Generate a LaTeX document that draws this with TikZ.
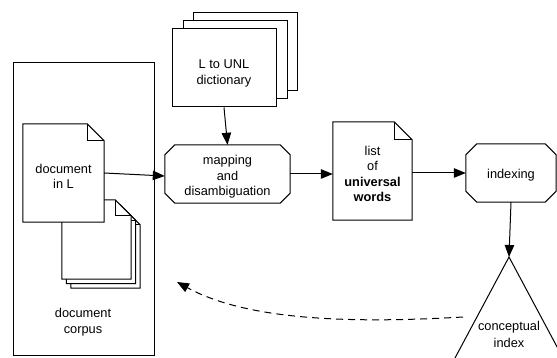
\documentclass[tikz,border=0pt]{standalone}
\usepackage{fontspec}
\setmainfont{Liberation Sans}
\usetikzlibrary{arrows.meta}
\newcommand\docpath[2]{%
  \draw[ln, fill=white] (#1.north west) -- ([xshift=-#2 pt]#1.north east) -- ([yshift=-#2 pt]#1.north east) -- (#1.south east) -- (#1.south west) -- cycle;
  \draw[ln] ([xshift=-#2 pt]#1.north east) -- ([xshift=-#2 pt,yshift=-#2 pt]#1.north east) -- ([yshift=-#2 pt]#1.north east);
}
\newcommand\octpath[2]{%
  \draw[ln] ([xshift=#2 pt]#1.north west) -- ([xshift=-#2 pt]#1.north east) -- ([yshift=-#2 pt]#1.north east) -- ([yshift=#2 pt]#1.south east) -- ([xshift=-#2 pt]#1.south east) -- ([xshift=#2 pt]#1.south west) -- ([yshift=#2 pt]#1.south west) -- ([yshift=-#2 pt]#1.north west) -- cycle;
}
\begin{document}
\begin{tikzpicture}[x=1pt,y=-1pt,
  txt/.style={font=\fontsize{12.8}{15.5}\selectfont, align=center, inner sep=0pt},
  ln/.style={line width=1pt, draw=black},
  tip/.style={-{Triangle[length=12pt,width=9.5pt]}},
  frame/.style={inner sep=0pt}
]
\useasboundingbox (0,0) rectangle (557,358);
\clip (0,0) rectangle (557,358);

% corpus
\node[ln, draw, frame, minimum width=141pt, minimum height=292pt] (corpus) at (83.5,209) {};
\node[txt] (corptext) at (83,322) {document\\corpus};

% stacked documents
\node[frame, minimum width=69pt, minimum height=79pt] (s3) at (105.5,248.5) {};
\docpath{s3}{16}
\node[frame, minimum width=69pt, minimum height=79pt] (s2) at (101,244) {};
\docpath{s2}{16}
\node[frame, minimum width=69pt, minimum height=79pt] (s1) at (96.5,239.5) {};
\docpath{s1}{16}

% document in L
\node[frame, minimum width=81pt, minimum height=98pt] (doc) at (63.5,173) {};
\docpath{doc}{17}
\node[txt] (doctext) at (63.5,176.5) {document\\in L};

% dictionary
\node[ln, fill=white, frame, minimum width=104pt, minimum height=78pt] (d3) at (245,52) {};
\node[ln, fill=white, frame, minimum width=104pt, minimum height=78pt] (d2) at (235,60) {};
\node[ln, fill=white, frame, minimum width=104pt, minimum height=78pt] (dict) at (224,68) {};
\node[txt] (dicttext) at (224,73.5) {L to UNL\\dictionary};

% mapping
\node[frame, minimum width=125pt, minimum height=58pt] (map) at (227.5,174) {};
\octpath{map}{10}
\node[txt] (maptext) at (227.5,177) {mapping\\and\\disambiguation};

% list of universal words
\node[frame, minimum width=79pt, minimum height=98pt] (list) at (372.5,171) {};
\docpath{list}{18}
\node[txt] (listtext) at (372.5,174) {list\\of\\\textbf{universal}\\\textbf{words}};

% indexing
\node[frame, minimum width=90pt, minimum height=58pt] (idx) at (511,173) {};
\octpath{idx}{11}
\node[txt] (idxtext) at (511,175) {indexing};

% conceptual index
\coordinate (apex) at (509,257);
\coordinate (tl) at (455,358);
\coordinate (tr) at (563,358);
\draw[ln] (tl) -- (apex) -- (tr);
\node[txt, font=\fontsize{12.8}{17}\selectfont] (cidx) at (509,334) {conceptual\\index};

% connectors
\draw[ln, tip] (dict.south) -- (map.north);
\draw[ln, tip] (doc.east) -- ([yshift=-2pt]map.west);
\draw[ln, tip] (map.east) -- (map.east -| list.west);
\draw[ln, tip] (list.east |- idx.west) -- (idx.west);
\draw[ln, tip] (idx.south) -- (apex);

\coordinate (dstart) at (463,317);
\coordinate (dend) at (177,282);
\draw[ln, dash pattern=on 7pt off 5pt, tip] (dstart) .. controls (360,323) and (250,322) .. (dend);
\end{tikzpicture}
\end{document}
